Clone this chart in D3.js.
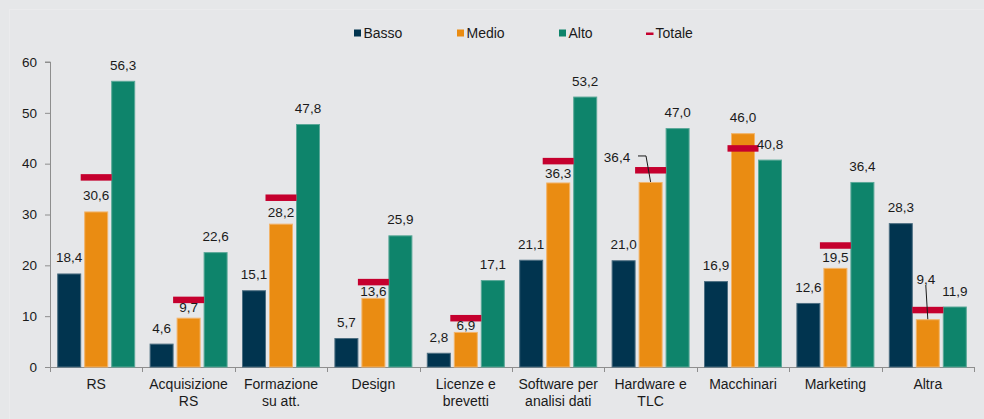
<!DOCTYPE html>
<html>
<head>
<meta charset="utf-8">
<script src="https://cdn.jsdelivr.net/npm/d3@7/dist/d3.min.js"></script>
<style>
  html, body { margin: 0; padding: 0; background: #e6e7e9; }
  svg { display: block; }
  text { font-family: "Liberation Sans", Arial, sans-serif; fill: #1a1a1a; }
</style>
</head>
<body>
<svg id="chart" width="984" height="419"></svg>
<script>
// Categories (two-line labels split on "\n")
const categories = [
  "RS", "Acquisizione\nRS", "Formazione\nsu att.", "Design", "Licenze e\nbrevetti",
  "Software per\nanalisi dati", "Hardware e\nTLC", "Macchinari", "Marketing", "Altra"
];
const seriesNames = ["Basso", "Medio", "Alto"];
const basso  = [18.4, 4.6, 15.1, 5.7, 2.8, 21.1, 21.0, 16.9, 12.6, 28.3];
const medio  = [30.6, 9.7, 28.2, 13.6, 6.9, 36.3, 36.4, 46.0, 19.5, 9.4];
const alto   = [56.3, 22.6, 47.8, 25.9, 17.1, 53.2, 47.0, 40.8, 36.4, 11.9];
const totale = [37.3, 13.2, 33.3, 16.7, 9.6, 40.5, 38.7, 43.0, 23.9, 11.2];
const yTicks = [0, 10, 20, 30, 40, 50, 60];

const colors = { Basso: "#01344f", Medio: "#ea8c12", Alto: "#0e846b", Totale: "#c5002e" };
const strokes = { Basso: "#4d6f82", Medio: "#f2b46a", Alto: "#5aa898" };

const fmt = v => v.toFixed(1).replace(".", ",");
const FONT = '"Liberation Sans", Arial, sans-serif';

const svg = d3.select("#chart");

// faint frame line
svg.append("rect").attr("x", 9.5).attr("y", 9.5).attr("width", 1000).attr("height", 1000)
  .attr("fill", "none").attr("stroke", "#ebebed").attr("stroke-width", 1);

const x = d3.scaleBand().domain(categories).range([50, 974]).paddingInner(0).paddingOuter(0);
const bw = x.bandwidth();
const xs = d3.scaleBand().domain(seriesNames).range([bw / 2 - 39, bw / 2 + 39]).paddingInner(3 / 27);
const y = d3.scaleLinear().domain([0, 60]).range([367, 62]);

const rows = categories.map((c, i) => ({
  cat: c, i, Basso: basso[i], Medio: medio[i], Alto: alto[i], Totale: totale[i]
}));

// Y axis
const yAxis = svg.append("g").attr("transform", "translate(50,0)")
  .call(d3.axisLeft(y).tickValues(yTicks).tickSize(5).tickFormat(d3.format("d")));
yAxis.select(".domain").attr("stroke", "#8e8e8e").attr("d", `M-5,${y(60)}H0.5V${y(0)}`);
yAxis.selectAll(".tick line").attr("stroke", "#8e8e8e");
yAxis.selectAll(".tick text").attr("font-size", 13.5).attr("x", -13)
  .style("font-family", FONT).attr("fill", "#1a1a1a");

// X axis: baseline with ticks at category boundaries
const xAxisG = svg.append("g");
xAxisG.append("line").attr("x1", 50).attr("x2", 975).attr("y1", y(0) + 0.5).attr("y2", y(0) + 0.5)
  .attr("stroke", "#8e8e8e");
const boundaries = categories.map(c => x(c)).concat([x(categories[categories.length - 1]) + bw]);
xAxisG.selectAll("line.tk").data(boundaries).join("line").attr("class", "tk")
  .attr("x1", d => Math.round(d) + 0.5).attr("x2", d => Math.round(d) + 0.5)
  .attr("y1", y(0)).attr("y2", y(0) + 5).attr("stroke", "#8e8e8e");

// Category labels
const catLab = svg.append("g").selectAll("text").data(categories).join("text")
  .attr("text-anchor", "middle").attr("font-size", 14)
  .attr("x", d => x(d) + bw / 2).attr("y", 388.5);
catLab.each(function (d) {
  const parts = d.split("\n");
  d3.select(this).selectAll("tspan").data(parts).join("tspan")
    .attr("x", x(d) + bw / 2).attr("dy", (p, k) => k === 0 ? 0 : 17).text(p => p);
});

// Bars
const barG = svg.append("g");
seriesNames.forEach(s => {
  barG.selectAll(null).data(rows).join("rect")
    .attr("x", d => x(d.cat) + xs(s) + 0.5)
    .attr("y", d => y(d[s]) + 0.5)
    .attr("width", xs.bandwidth() - 1)
    .attr("height", d => y(0) - y(d[s]) - 0.5)
    .attr("fill", colors[s]).attr("stroke", strokes[s]).attr("stroke-width", 1);
});

// Totale markers, centred on the Medio bar
const mw = 31, mh = 6.5;
svg.append("g").selectAll("rect").data(rows).join("rect")
  .attr("x", d => x(d.cat) + xs("Medio") + xs.bandwidth() / 2 - mw / 2)
  .attr("y", d => y(d.Totale) - mh / 2)
  .attr("width", mw).attr("height", mh).attr("fill", colors.Totale);

// Value labels: baseline gap above the bar top (px). Some Medio labels sit
// closer to their bar to clear the Totale marker; two are moved aside with a leader.
const defaultGap = 11;
const gapMedio = {
  "Acquisizione\nRS": 6, "Formazione\nsu att.": 6.5, "Design": 2, "Licenze e\nbrevetti": 1.6,
  "Software per\nanalisi dati": 4.3, "Marketing": 6
};
const moved = {
  "Hardware e\nTLC|Medio": { dx: -33.6, dy: -20, leader: "elbow" },
  "Altra|Medio": { dx: -2, dy: -35, leader: "straight" }
};
const labG = svg.append("g");
seriesNames.forEach(s => {
  rows.forEach(d => {
    const cx = x(d.cat) + xs(s) + xs.bandwidth() / 2;
    const top = y(d[s]);
    const m = moved[d.cat + "|" + s];
    if (!m) {
      const gap = (s === "Medio" && gapMedio[d.cat] !== undefined) ? gapMedio[d.cat] : defaultGap;
      labG.append("text").attr("x", cx).attr("y", top - gap).attr("text-anchor", "middle")
        .attr("font-size", 13.5).text(fmt(d[s]));
    } else {
      const lx = cx + m.dx, ly = top + m.dy;
      labG.append("text").attr("x", lx).attr("y", ly).attr("text-anchor", "middle")
        .attr("font-size", 13.5).text(fmt(d[s]));
      let path;
      if (m.leader === "elbow") {
        path = `M${lx + 21},${ly - 6}H${lx + 29}L${cx},${top}`;
      } else {
        path = `M${lx},${ly + 1}L${cx},${top}`;
      }
      labG.append("path").attr("d", path).attr("fill", "none")
        .attr("stroke", "#1a1a1a").attr("stroke-width", 1);
    }
  });
});

// Legend
const legend = svg.append("g");
const legItems = [
  { name: "Basso", x: 354, type: "sq" },
  { name: "Medio", x: 457, type: "sq" },
  { name: "Alto", x: 559, type: "sq" },
  { name: "Totale", x: 646, type: "dash" }
];
legItems.forEach(it => {
  if (it.type === "sq") {
    legend.append("rect").attr("x", it.x).attr("y", 29.5).attr("width", 7).attr("height", 7)
      .attr("fill", colors[it.name]);
  } else {
    legend.append("rect").attr("x", it.x).attr("y", 32.5).attr("width", 7.5).attr("height", 2.5)
      .attr("fill", colors[it.name]);
  }
  legend.append("text").attr("x", it.x + 9.5).attr("y", 38.3).attr("font-size", 14).text(it.name);
});
</script>
</body>
</html>
